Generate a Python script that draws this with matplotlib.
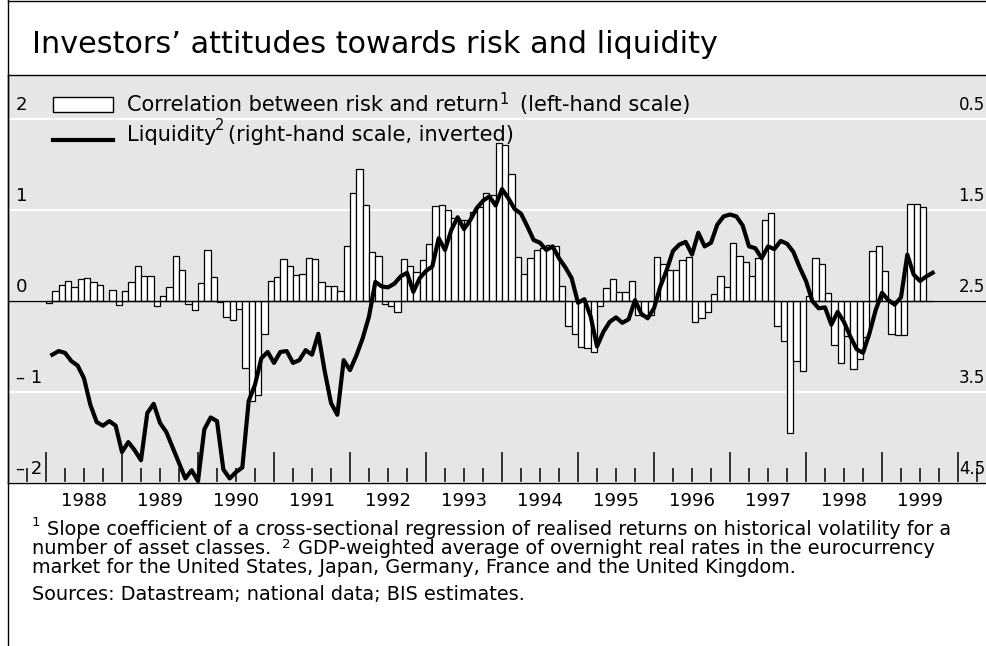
import numpy as np
import matplotlib
matplotlib.use("Agg")
import matplotlib.pyplot as plt
import matplotlib.transforms as mtransforms
from matplotlib.lines import Line2D
from matplotlib.patches import Rectangle

W, H = 986, 646

# monthly correlation between risk and return, Jan 1988 onwards (left-hand scale)
corr = [
    -0.02, 0.11, 0.18, 0.22, 0.15, 0.24, 0.25, 0.21, 0.18, 0.00, 0.12, -0.04,
    0.11, 0.21, 0.39, 0.27, 0.28, -0.05, 0.06, 0.15, 0.49, 0.34, -0.03, -0.10,
    0.20, 0.56, 0.26, -0.01, -0.18, -0.21, -0.09, -0.74, -1.10, -1.03, -0.36, 0.22,
    0.26, 0.46, 0.39, 0.29, 0.30, 0.47, 0.46, 0.21, 0.16, 0.17, 0.11, 0.60,
    1.19, 1.45, 1.06, 0.54, 0.49, -0.03, -0.05, -0.12, 0.46, 0.39, 0.32, 0.45,
    0.63, 1.04, 1.05, 1.00, 0.91, 0.89, 0.89, 0.98, 1.03, 1.19, 1.17, 1.74,
    1.71, 1.40, 0.48, 0.30, 0.47, 0.56, 0.58, 0.62, 0.60, 0.16, -0.28, -0.36,
    -0.50, -0.52, -0.56, -0.05, 0.14, 0.24, 0.10, 0.10, 0.22, -0.15, -0.17, -0.15,
    0.48, 0.41, 0.34, 0.34, 0.45, 0.48, -0.23, -0.19, -0.12, 0.08, 0.27, 0.15,
    0.64, 0.49, 0.43, 0.27, 0.47, 0.89, 0.97, -0.27, -0.44, -1.45, -0.66, -0.77,
    0.06, 0.47, 0.41, 0.09, -0.48, -0.68, -0.39, -0.75, -0.64, -0.40, 0.55, 0.60,
    0.33, -0.36, -0.37, -0.37, 1.07, 1.07, 1.03, 0.00,
]

# monthly liquidity, Feb 1988 onwards (right-hand scale, inverted)
liquidity = [
    3.09, 3.05, 3.07, 3.16, 3.21, 3.35, 3.64, 3.83, 3.87, 3.82, 3.87,
    4.16, 4.05, 4.14, 4.25, 3.73, 3.63, 3.84, 3.94, 4.11, 4.28, 4.45, 4.36,
    4.48, 3.91, 3.78, 3.82, 4.35, 4.45, 4.38, 4.33, 3.60, 3.42, 3.13, 3.06,
    3.18, 3.06, 3.05, 3.18, 3.15, 3.04, 3.09, 2.86, 3.27, 3.62, 3.75, 3.15,
    3.26, 3.10, 2.91, 2.67, 2.29, 2.34, 2.35, 2.31, 2.23, 2.19, 2.40, 2.25,
    2.17, 2.12, 1.81, 1.94, 1.72, 1.58, 1.71, 1.61, 1.48, 1.40, 1.35, 1.45,
    1.27, 1.37, 1.49, 1.54, 1.68, 1.83, 1.86, 1.94, 1.90, 2.03, 2.13, 2.25,
    2.52, 2.48, 2.67, 3.00, 2.84, 2.73, 2.68, 2.74, 2.70, 2.49, 2.64, 2.69,
    2.58, 2.34, 2.16, 1.95, 1.88, 1.85, 1.99, 1.75, 1.90, 1.86, 1.66, 1.57,
    1.55, 1.57, 1.67, 1.90, 1.92, 2.03, 1.90, 1.93, 1.84, 1.87, 1.96, 2.13,
    2.28, 2.50, 2.58, 2.57, 2.76, 2.62, 2.73, 2.89, 3.03, 3.07, 2.86, 2.60,
    2.41, 2.49, 2.54, 2.46, 1.99, 2.21, 2.28, 2.23, 2.19,
]

years = list(range(1988, 2000))
left_ticks = [-2, -1, 0, 1, 2]
left_labels = ["– 2", "– 1", "0", "1", "2"]
right_ticks = [4.5, 3.5, 2.5, 1.5, 0.5]
right_labels = ["4.5", "3.5", "2.5", "1.5", "0.5"]

title = "Investors’ attitudes towards risk and liquidity"
leg1 = "Correlation between risk and return"
leg1b = "(left-hand scale)"
leg2 = "Liquidity"
leg2b = "(right-hand scale, inverted)"
fn1 = "Slope coefficient of a cross-sectional regression of realised returns on historical volatility for a"
fn2a = "number of asset classes."
fn2b = "GDP-weighted average of overnight real rates in the eurocurrency"
fn3 = "market for the United States, Japan, Germany, France and the United Kingdom."
src = "Sources: Datastream; national data; BIS estimates."


def fx(px):
    return px / W


def fy(py):
    return 1 - py / H


fig = plt.figure(figsize=(W / 100, H / 100), dpi=100)
renderer = fig.canvas.get_renderer()


def fit(s, width_px):
    t = fig.text(0, 0, s, fontsize=20)
    w = t.get_window_extent(renderer=renderer).width
    t.remove()
    return 20 * width_px / w


fs_title = fit(title, 686)
fs_leg = fit(leg1, 373)
fs_tick = fit("1988", 46)
fs_note = (fit(fn1, 864) + fit(fn3, 800)) / 2

# plot area: 1987.5 at x=8px, 76 px per year; 91 px per unit on left scale
x0 = 1987.5
x1 = x0 + (W - 8) / 76
ytop = (301 - 75) / 91

ax = fig.add_axes([fx(8), fy(483), (W - 8) / W, 408 / H])
ax.set_facecolor("#e6e6e6")
ax.set_xlim(x0, x1)
ax.set_ylim(-2, ytop)

corr_x = 1988 + (np.arange(len(corr)) + 0.5) / 12
ax.bar(corr_x, corr, width=1 / 12, color="white", edgecolor="black", linewidth=0.9, zorder=2)
ax.axhline(0, color="black", lw=1.0, zorder=3)

ax.set_yticks(left_ticks)
ax.yaxis.grid(True, color="white", lw=1.6)
ax.set_axisbelow(True)
ax.tick_params(axis="y", length=0, labelleft=False)

major = np.arange(1988, 2001)
minor = [q for q in np.arange(1987.75, 2000.3, 0.25) if abs(q - round(q)) > 1e-6]
ax.set_xticks(major)
ax.set_xticks(minor, minor=True)
ax.tick_params(axis="x", which="major", direction="in", length=22, width=1.1,
               color="black", labelbottom=False)
ax.tick_params(axis="x", which="minor", direction="in", length=11, width=1.1,
               color="black", labelbottom=False)

for s in ["left", "top", "bottom"]:
    ax.spines[s].set_linewidth(1.0)
ax.spines["right"].set_visible(False)

lbl = mtransforms.blended_transform_factory(ax.transAxes, ax.transData)
for v, s in zip(left_ticks, left_labels):
    ax.text((16 - 8) / (W - 8), v + 0.1, s, transform=lbl, fontsize=fs_tick,
            va="baseline", ha="left")

xt = mtransforms.blended_transform_factory(ax.transData, ax.transAxes)
for yr in years:
    ax.text(yr + 0.5, -(506 - 483) / 408, str(yr), transform=xt, fontsize=fs_tick,
            ha="center", va="baseline", clip_on=False)

ax2 = ax.twinx()
ax2.set_ylim(4.5, 2.5 - ytop)
liq_x = 1988 + (np.arange(len(liquidity)) + 1) / 12
ax2.plot(liq_x, liquidity, color="black", lw=3.0, zorder=4)
ax2.set_yticks([])
for s in ax2.spines.values():
    s.set_visible(False)

# right-hand labels sit against the right edge of the panel
rt = mtransforms.blended_transform_factory(ax2.transAxes, ax2.transData)
for v, s in zip(right_ticks, right_labels):
    ax2.text((985 - 8) / (W - 8), v - 0.1, s, transform=rt, fontsize=fs_tick * 0.92,
             va="baseline", ha="right", clip_on=False)

# frame of the panel
fig.add_artist(Line2D([fx(8), fx(8)], [0, 1], color="black", lw=1.0))
fig.add_artist(Line2D([fx(8), 1], [fy(1), fy(1)], color="black", lw=1.0))

fig.text(fx(32), fy(53), title, fontsize=fs_title, va="baseline", ha="left")

# legend
fig.add_artist(Rectangle((fx(53), fy(112)), 60 / W, 15 / H, transform=fig.transFigure,
                         facecolor="white", edgecolor="black", lw=1.0))
fig.add_artist(Line2D([fx(53), fx(113)], [fy(140), fy(140)], color="black", lw=3.0))
fig.text(fx(127), fy(111), leg1, fontsize=fs_leg, va="baseline")
fig.text(fx(499), fy(104), "1", fontsize=fs_leg * 0.7, va="baseline")
fig.text(fx(520), fy(111), leg1b, fontsize=fs_leg, va="baseline")
fig.text(fx(127), fy(141), leg2, fontsize=fs_leg, va="baseline")
fig.text(fx(215), fy(130), "2", fontsize=fs_leg * 0.7, va="baseline")
fig.text(fx(228), fy(141), leg2b, fontsize=fs_leg, va="baseline")

# footnotes
fig.text(fx(32), fy(526), "1", fontsize=fs_note * 0.7, va="baseline")
fig.text(fx(47), fy(535), fn1, fontsize=fs_note, va="baseline")
fig.text(fx(32), fy(554), fn2a, fontsize=fs_note, va="baseline")
fig.text(fx(282), fy(548), "2", fontsize=fs_note * 0.7, va="baseline")
fig.text(fx(298), fy(554), fn2b, fontsize=fs_note, va="baseline")
fig.text(fx(32), fy(573), fn3, fontsize=fs_note, va="baseline")
fig.text(fx(32), fy(600), src, fontsize=fs_note, va="baseline")

fig.savefig("out.png", dpi=100)
